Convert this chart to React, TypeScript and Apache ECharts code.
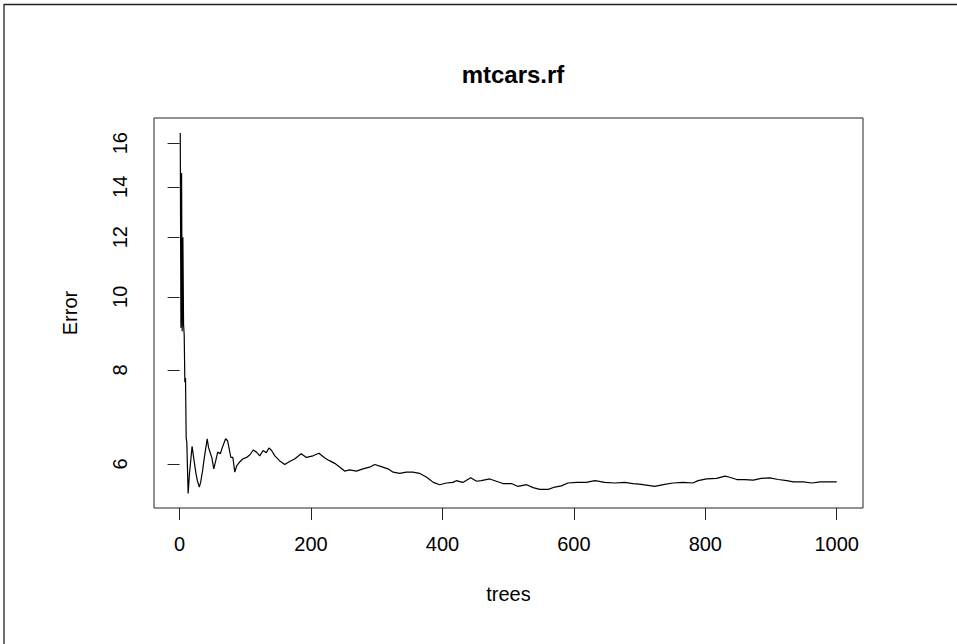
import React, { useEffect, useRef } from "react";
import * as echarts from "echarts";

// Out-of-bag error of the random forest as trees are added
const trees = [
  1, 2, 3, 4, 5, 6, 7, 8, 9, 10, 11, 12, 13, 15, 19, 22, 25, 27, 30, 32, 35, 37, 40, 42, 44, 47, 49,
  52, 55, 58, 62, 65, 68, 70, 73, 75, 78, 81, 84, 87, 91, 96, 102, 107, 112, 117, 122, 127, 132, 136,
  140, 145, 152, 160, 168, 175, 185, 193, 203, 212, 221, 228, 236, 244, 251, 259, 269, 279, 289, 297,
  307, 317, 325, 335, 345, 355, 365, 376, 386, 396, 406, 416, 421, 431, 443, 452, 459, 472, 482, 492,
  505, 515, 528, 538, 548, 561, 571, 581, 591, 604, 619, 632, 647, 662, 677, 690, 699, 705, 723, 736,
  751, 766, 781, 789, 802, 817, 830, 837, 848, 860, 873, 885, 898, 911, 924, 934, 949, 962, 975, 990,
  1000,
];
const errors = [
  16.5, 9.1, 14.6, 9.0, 12.0, 9.2, 8.9, 7.7, 7.8, 6.5, 6.4, 5.9, 5.48, 5.82, 6.33, 6.06, 5.82, 5.7,
  5.59, 5.67, 5.88, 6.06, 6.31, 6.48, 6.31, 6.19, 6.12, 5.91, 6.06, 6.22, 6.19, 6.31, 6.41, 6.48,
  6.44, 6.31, 6.12, 6.12, 5.85, 5.97, 6.03, 6.09, 6.12, 6.17, 6.26, 6.22, 6.15, 6.25, 6.21, 6.3,
  6.25, 6.15, 6.06, 5.99, 6.05, 6.09, 6.19, 6.12, 6.15, 6.2, 6.11, 6.06, 6.01, 5.94, 5.87, 5.89,
  5.87, 5.91, 5.94, 5.99, 5.95, 5.91, 5.85, 5.83, 5.85, 5.85, 5.83, 5.76, 5.67, 5.63, 5.66, 5.67,
  5.7, 5.67, 5.75, 5.69, 5.7, 5.73, 5.69, 5.65, 5.65, 5.6, 5.63, 5.58, 5.55, 5.55, 5.59, 5.61, 5.66,
  5.67, 5.67, 5.7, 5.67, 5.66, 5.67, 5.65, 5.64, 5.63, 5.6, 5.63, 5.66, 5.67, 5.66, 5.7, 5.73, 5.74,
  5.78, 5.76, 5.72, 5.72, 5.71, 5.74, 5.75, 5.72, 5.7, 5.68, 5.68, 5.66, 5.68, 5.68, 5.68,
];

const xTicks = [0, 200, 400, 600, 800, 1000];
const yTicks = [6, 8, 10, 12, 14, 16];

const FONT = "'Liberation Sans', Arial, sans-serif";

export default function App() {
  const ref = useRef<HTMLDivElement>(null);

  useEffect(() => {
    if (!ref.current) return;
    const chart = echarts.init(ref.current, null, { renderer: "svg" });
    const points = trees.map((t, i) => [t, errors[i]]);

    chart.setOption({
      animation: false,
      backgroundColor: "#ffffff",
      textStyle: { fontFamily: FONT },
      title: {
        text: "mtcars.rf",
        left: 508,
        top: 57,
        textAlign: "center",
        textStyle: { fontFamily: FONT, fontSize: 24, fontWeight: "bold", color: "#000" },
      },
      grid: {
        left: 154,
        right: 94,
        top: 118,
        bottom: 136,
        show: true,
        borderColor: "#222",
        borderWidth: 1,
        backgroundColor: "transparent",
      },
      xAxis: {
        type: "value",
        min: -38.96,
        max: 1039.96,
        name: "trees",
        nameLocation: "middle",
        nameGap: 76,
        nameTextStyle: { fontFamily: FONT, fontSize: 20, color: "#000" },
        axisLine: { show: false },
        splitLine: { show: false },
        axisTick: {
          show: true,
          length: 12,
          customValues: xTicks,
          lineStyle: { color: "#222", width: 1 },
        },
        axisLabel: {
          customValues: xTicks,
          formatter: (v: number) => String(v),
          margin: 26,
          fontFamily: FONT,
          fontSize: 20,
          color: "#000",
        },
      },
      yAxis: {
        type: "log",
        min: 5.243,
        max: 17.28,
        name: "Error",
        nameLocation: "middle",
        nameGap: 74,
        nameTextStyle: { fontFamily: FONT, fontSize: 20, color: "#000" },
        axisLine: { show: false },
        splitLine: { show: false },
        axisTick: {
          show: true,
          length: 12,
          customValues: yTicks,
          lineStyle: { color: "#222", width: 1 },
        },
        axisLabel: {
          customValues: yTicks,
          formatter: (v: number) => String(Math.round(v)),
          rotate: 90,
          margin: 24,
          fontFamily: FONT,
          fontSize: 20,
          color: "#000",
        },
      },
      series: [
        {
          type: "line",
          data: points,
          showSymbol: false,
          lineStyle: { color: "#000", width: 1.2 },
        },
      ],
      graphic: [
        { type: "line", shape: { x1: 4, y1: 4.5, x2: 957, y2: 4.5 }, style: { stroke: "#222", lineWidth: 1.3 } },
        { type: "line", shape: { x1: 4, y1: 4, x2: 4, y2: 644 }, style: { stroke: "#222", lineWidth: 1.3 } },
      ],
    });

    return () => chart.dispose();
  }, []);

  return (
    <div
      ref={ref}
      style={{ position: "fixed", left: 0, top: 0, width: 957, height: 644, background: "#fff" }}
    />
  );
}
